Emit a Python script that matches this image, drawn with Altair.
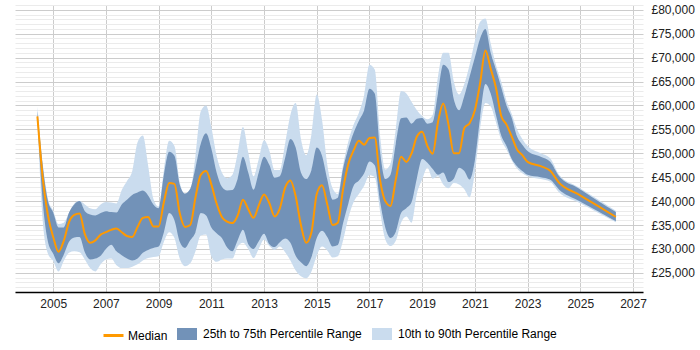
import altair as alt
import pandas as pd

# Sample dates (decimal years)
years = [
    2004.4, 2004.6, 2004.8, 2005.0, 2005.2, 2005.4, 2005.6, 2005.8, 2006.0, 2006.2,
    2006.4, 2006.6, 2006.8, 2007.0, 2007.2, 2007.4, 2007.6, 2007.8, 2008.0, 2008.2,
    2008.4, 2008.6, 2008.8, 2009.0, 2009.2, 2009.4, 2009.6, 2009.8, 2010.0, 2010.2,
    2010.4, 2010.6, 2010.8, 2011.0, 2011.2, 2011.4, 2011.6, 2011.8, 2012.0, 2012.2,
    2012.4, 2012.6, 2012.8, 2013.0, 2013.2, 2013.4, 2013.6, 2013.8, 2014.0, 2014.2,
    2014.4, 2014.6, 2014.8, 2015.0, 2015.2, 2015.4, 2015.6, 2015.8, 2016.0, 2016.2,
    2016.4, 2016.6, 2016.8, 2017.0, 2017.2, 2017.4, 2017.6, 2017.8, 2018.0, 2018.2,
    2018.4, 2018.6, 2018.8, 2019.0, 2019.2, 2019.4, 2019.6, 2019.8, 2020.0, 2020.2,
    2020.4, 2020.6, 2020.8, 2021.0, 2021.2, 2021.4, 2021.6, 2021.8, 2022.0, 2022.2,
    2022.4, 2022.6, 2022.8, 2023.0, 2023.5, 2023.85, 2024.2, 2024.9, 2025.6, 2026.35,
]

median = [
    57700, 45000, 37000, 32500, 29400, 31700, 35600, 37100, 37400, 33100,
    31300, 31800, 33000, 33500, 34000, 34300, 33500, 32700, 32500, 34600,
    36500, 36700, 34700, 34700, 39800, 43800, 43600, 37500, 34600, 35000,
    40800, 45500, 46300, 43500, 39500, 36700, 35700, 35400, 37000, 40300,
    38300, 36500, 39100, 41400, 39600, 36800, 38500, 42800, 44300, 41000,
    35000, 31300, 33500, 41500, 43300, 39300, 35000, 35500, 42500, 47800,
    50600, 52600, 51800, 53200, 53300, 44500, 40000, 39000, 44500, 49300,
    48200, 50000, 53500, 54500, 51500, 49900, 56500, 60400, 56000, 50000,
    50000, 55300, 56300, 59000, 64700, 71500, 67700, 63700, 57800, 56000,
    53500, 50800, 49600, 48200, 47300, 46400, 43800, 41500, 39200, 36700,
]

p75 = [
    58800, 47500, 40000, 37600, 34500, 34500, 37600, 39300, 40000, 37900,
    37200, 37000, 37500, 37900, 37700, 37600, 39300, 40300, 41300, 41800,
    42200, 41200, 39300, 38500, 45500, 50300, 49500, 43500, 41600, 42600,
    47000, 52000, 54200, 51000, 46000, 43000, 42200, 42300, 44700, 49300,
    46000, 42400, 46000, 49300, 47600, 44900, 45200, 49000, 53000, 51200,
    46000, 44600, 46500, 51200, 49500, 44500, 40300, 40700, 46800, 51000,
    54300, 56800, 59000, 63500, 62500, 50500, 44600, 45500, 52000, 57300,
    57500, 56200, 57200, 57400, 56200, 56500, 62500, 68500, 67500, 61300,
    59000, 62000, 66000, 70000, 74000, 76000, 71000, 67500, 63800, 60000,
    57400, 53500, 51800, 50500, 49300, 48300, 45200, 42800, 40300, 37700,
]

p25 = [
    57300, 40000, 31500, 29000, 27000, 28800, 31500, 32400, 32500, 29300,
    27800, 28000, 28600, 30000, 30900, 29500, 28700, 28000, 27600, 28000,
    29200, 29800, 30200, 30500, 33500, 37500, 36000, 31500, 30200, 31800,
    33500, 37500, 37000, 34500, 33300, 32300, 30300, 29500, 31800, 34000,
    31000, 30000, 31600, 33200, 31000, 30400, 31400, 32200, 31300, 28600,
    27200, 26400, 28300, 32300, 33800, 32500, 30500, 30800, 35400, 39500,
    43200, 44300, 45800, 48300, 47500, 40000, 34500, 32300, 33600, 37500,
    38500, 39800, 44800, 48800, 48000, 46700, 45500, 46000, 44000, 44700,
    47000, 46300, 44500, 48500, 57500, 64500, 62500, 58000, 53700, 51500,
    48800, 47300, 46300, 45500, 45000, 44500, 42400, 40200, 38100, 35800,
]

p90 = [
    59800, 48000, 40500, 38000, 35200, 35500, 37500, 39500, 40000, 39300,
    38500, 38300, 39300, 39800, 39700, 39500, 42300, 44200, 46300, 52300,
    53700, 47500, 40500, 38800, 46500, 52600, 51500, 44000, 41500, 42200,
    49500, 58800, 60000, 55500, 49500, 46000, 44800, 45500, 50000, 55500,
    50200, 45200, 48800, 52700, 50600, 46500, 46500, 52000, 58000, 60500,
    53000, 49600, 54000, 62300, 57000, 47600, 42700, 41500, 47600, 52500,
    56000, 58500, 62200, 68500, 67500, 53800, 46600, 47800, 55000, 63000,
    62500, 60700, 59000, 57800, 57100, 58000, 66000, 71000, 71000, 65000,
    62300, 64500, 68500, 73500, 77500, 78200, 73000, 68500, 65000, 61000,
    58200, 55000, 53000, 51500, 50000, 49000, 45500, 43000, 40600, 38000,
]

p10 = [
    57000, 36000, 29000, 27500, 25300, 27500, 29200, 29500, 29300, 27800,
    26000, 25300, 26800, 27800, 28000, 26600, 26000, 26000, 26300, 26800,
    27600, 28100, 28300, 28500, 31500, 33500, 32300, 28000, 26400, 27000,
    29500, 32800, 33000, 28500, 27300, 27800, 28000, 28000, 30500, 31300,
    30000, 28100, 30000, 31900, 30600, 29800, 30500, 29300, 27600, 25500,
    24300, 23900, 25300, 28600, 30500, 29700, 28200, 28500, 31800, 36500,
    39800, 41500, 43200, 45400, 45000, 38000, 32000, 30600, 31700, 35500,
    36800, 35500, 41500, 44500, 47000, 44700, 45200, 43500, 42700, 43800,
    43500, 42500, 40800, 46000, 55000, 60500, 59800, 56500, 52800, 50800,
    48500, 46800, 45800, 45200, 44600, 44100, 41800, 39800, 37800, 35600,
]

band_names = ["25th to 75th Percentile Range", "10th to 90th Percentile Range"]
band_colors = ["#7292b8", "#cadcee"]
median_name = "Median"
median_color = "#ff9900"
year_ticks = list(range(2005, 2028, 2))
salary_ticks = list(range(21000, 81001, 1000))

FONT = "Liberation Sans"

df = pd.DataFrame({
    "year": years, "median": median,
    "p10": p10, "p25": p25, "p75": p75, "p90": p90,
})

x_enc = alt.X(
    "year:Q",
    scale=alt.Scale(domain=[2003.55, 2027.38], nice=False, zero=False),
    axis=alt.Axis(
        values=year_ticks, format="d", title=None,
        grid=True, gridColor="#cccccc", gridWidth=1,
        domain=True, domainColor="#000000", domainWidth=1.5,
        ticks=False, labelPadding=6,
        labelFont=FONT, labelFontSize=12, labelColor="#222222",
    ),
)

y_scale = alt.Scale(domain=[21000, 81000], nice=False, zero=False)
y_axis = alt.Axis(
    orient="right", values=salary_ticks, title=None,
    labelExpr="datum.value % 5000 === 0 ? '£' + format(datum.value, ',') : ''",
    labelOverlap=False,
    gridColor={"condition": {"test": "datum.value % 5000 === 0", "value": "#cccccc"},
               "value": "#ebebeb"},
    ticks=False, domain=False, labelPadding=8,
    labelFont=FONT, labelFontSize=12, labelColor="#222222",
)

fill_scale = alt.Scale(domain=band_names, range=band_colors)
fill_legend = alt.Legend(
    orient="none", legendX=162, legendY=319, direction="horizontal",
    title=None, symbolType="M-1,-0.6H1V0.6H-1Z", symbolSize=400,
    symbolStrokeWidth=0, labelFont=FONT, labelFontSize=12, labelColor="#000000",
    labelOffset=6, columnPadding=10, padding=0,
)

base = alt.Chart(df)

outer_band = base.mark_area(interpolate="monotone", opacity=1).transform_calculate(
    band=f"'{band_names[1]}'"
).encode(
    x=x_enc,
    y=alt.Y("p10:Q", scale=y_scale, axis=y_axis),
    y2="p90:Q",
    fill=alt.Fill("band:N", scale=fill_scale, legend=fill_legend),
)

inner_band = base.mark_area(interpolate="monotone", opacity=1).transform_calculate(
    band=f"'{band_names[0]}'"
).encode(
    x=x_enc,
    y=alt.Y("p25:Q", scale=y_scale, axis=y_axis),
    y2="p75:Q",
    fill=alt.Fill("band:N", scale=fill_scale, legend=fill_legend),
)

median_line = base.mark_line(interpolate="monotone", strokeWidth=2).transform_calculate(
    series=f"'{median_name}'"
).encode(
    x=x_enc,
    y=alt.Y("median:Q", scale=y_scale, axis=y_axis),
    stroke=alt.Stroke(
        "series:N",
        scale=alt.Scale(domain=[median_name], range=[median_color]),
        legend=alt.Legend(
            orient="none", legendX=87, legendY=319, title=None,
            symbolType="M-1,0H1", symbolSize=400, symbolStrokeWidth=3,
            labelFont=FONT, labelFontSize=12, labelColor="#000000",
            labelOffset=3, padding=0,
        ),
    ),
)

chart = alt.layer(outer_band, inner_band, median_line).properties(
    width=628, height=287,
    autosize=alt.AutoSizeParams(type="none"),
    padding={"left": 15, "top": 5, "right": 57, "bottom": 58},
    background="#ffffff",
).configure_view(stroke=None)

chart.save("out.html", embed_options={"renderer": "svg", "actions": False})
